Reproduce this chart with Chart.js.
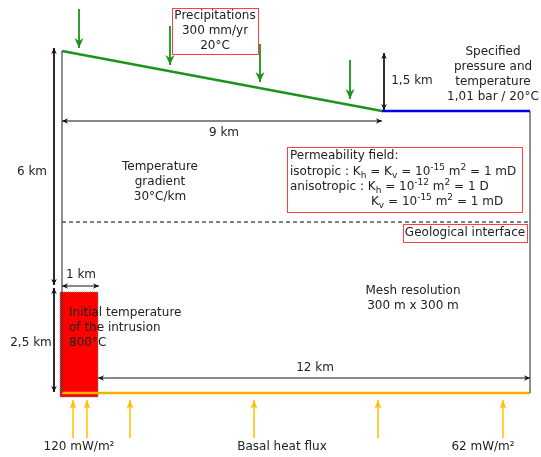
<!DOCTYPE html>
<html>
<head>
<meta charset="utf-8">
<script src="https://cdn.jsdelivr.net/npm/chart.js@4/dist/chart.umd.min.js"></script>
<style>
  body { margin: 0; background: #fff; }
</style>
</head>
<body>
<canvas id="myChart" width="541" height="457"></canvas>
<script>
// schematic coordinates (diagram units, y grows downward)
var surfaceX = [62, 382];
var surfaceY = [51, 111];
var outletX = [382, 530];
var outletY = [111, 111];
var leftWallX = [62, 62];
var leftWallY = [51, 393];
var rightWallX = [530, 530];
var rightWallY = [111, 393];
var baseX = [62, 530];
var baseY = [393, 393];
var interfaceX = [62, 530];
var interfaceY = [222, 222];
var intrusionX = [60, 98];
var intrusionY = [292, 397];

// boundary condition arrows
var rainX = [79, 170, 260, 350];
var rainFromY = [9, 26, 44, 60];
var rainToY = [48, 65, 82, 99];
var fluxX = [73, 87, 130, 254, 378, 503];
var fluxFromY = [438, 438, 438, 438, 438, 438];
var fluxToY = [400, 400, 400, 400, 400, 400];

// dimension arrows: [x1, y1, x2, y2]
var dimNames = ["6 km", "2,5 km", "9 km", "1,5 km", "1 km", "12 km"];
var dimLines = [
  [54, 48, 54, 285],
  [54, 288, 54, 392],
  [62, 121, 382, 121],
  [384, 53, 384, 110],
  [62, 286, 99, 286],
  [98, 378, 530, 378]
];

function pts(xs, ys) {
  return xs.map(function (x, i) { return { x: x, y: ys[i] }; });
}

var datasets = [];

function addLine(xs, ys, color, width, extra) {
  var ds = {
    data: pts(xs, ys),
    showLine: true,
    borderColor: color,
    borderWidth: width,
    pointRadius: 0,
    fill: false,
    order: 1
  };
  Object.assign(ds, extra || {});
  datasets.push(ds);
}

// intrusion block (drawn first, under everything)
addLine(intrusionX, [intrusionY[0], intrusionY[0]], "rgba(0,0,0,0)", 0, {
  fill: { value: intrusionY[1] },
  backgroundColor: "#ff0000",
  order: 9
});
addLine([intrusionX[0], intrusionX[1], intrusionX[1], intrusionX[0], intrusionX[0]],
  [intrusionY[0], intrusionY[0], intrusionY[1], intrusionY[1], intrusionY[0]],
  "#888", 1, { borderDash: [1, 1], order: 8 });

addLine(leftWallX, leftWallY, "#444", 1.2);
addLine(rightWallX, rightWallY, "#444", 1.2);
addLine(interfaceX, interfaceY, "#000", 1, { borderDash: [4, 3] });
addLine(surfaceX, surfaceY, "#1c941c", 2.5);
addLine(outletX, outletY, "#0000e6", 2.5);
addLine(baseX, baseY, "#f5b000", 2.5);

rainX.forEach(function (x, i) {
  addLine([x, x], [rainFromY[i], rainToY[i]], "#1c941c", 1.8,
    { arrow: ["end"], headLen: 10, headW: 4.5 });
});
fluxX.forEach(function (x, i) {
  addLine([x, x], [fluxFromY[i], fluxToY[i]], "#ffc000", 1.5,
    { arrow: ["end"], headLen: 9, headW: 3.5 });
});
dimLines.forEach(function (d) {
  addLine([d[0], d[2]], [d[1], d[3]], "#111", 1,
    { arrow: ["start", "end"], headLen: 6, headW: 2.8 });
});

// text annotations: x, y, align, lines
var labels = [
  { x: 215, y: 16, lines: ["Precipitations", "300 mm/yr", "20°C"] },
  { x: 493, y: 52, lines: ["Specified", "pressure and", "temperature", "1,01 bar / 20°C"] },
  { x: 412, y: 81, lines: ["1,5 km"] },
  { x: 224, y: 133, lines: ["9 km"] },
  { x: 32, y: 172, lines: ["6 km"] },
  { x: 160, y: 167, lines: ["Temperature", "gradient", "30°C/km"] },
  { x: 465, y: 233, lines: ["Geological interface"] },
  { x: 81, y: 275, lines: ["1 km"] },
  { x: 69, y: 313, lines: ["Initial temperature", "of the intrusion", "800°C"], align: "left" },
  { x: 31, y: 343, lines: ["2,5 km"] },
  { x: 413, y: 291, lines: ["Mesh resolution", "300 m x 300 m"] },
  { x: 315, y: 368, lines: ["12 km"] },
  { x: 79, y: 447, lines: ["120 mW/m²"] },
  { x: 282, y: 447, lines: ["Basal heat flux"] },
  { x: 483, y: 447, lines: ["62 mW/m²"] }
];

// framed boxes: [x1, y1, x2, y2]
var boxes = [
  [172, 8, 258, 54],
  [287, 147, 522, 212],
  [403, 224, 527, 242]
];

// permeability block with sub/superscripts
var permLines = [
  { x: 290, y: 156, parts: [["Permeability field:", "n"]] },
  { x: 290, y: 172, parts: [["isotropic : K", "n"], ["h", "sub"], [" = K", "n"], ["v", "sub"],
    [" = 10", "n"], ["-15", "sup"], [" m", "n"], ["2", "sup"], [" = 1 mD", "n"]] },
  { x: 290, y: 187, parts: [["anisotropic : K", "n"], ["h", "sub"], [" = 10", "n"], ["-12", "sup"],
    [" m", "n"], ["2", "sup"], [" = 1 D", "n"]] },
  { x: 371, y: 202, parts: [["K", "n"], ["v", "sub"], [" = 10", "n"], ["-15", "sup"],
    [" m", "n"], ["2", "sup"], [" = 1 mD", "n"]] }
];

var FONT = '12px "DejaVu Sans"';
var SMALL = '9px "DejaVu Sans"';
var LINE_H = 15;

var annotate = {
  id: "annotate",
  afterDatasetsDraw: function (chart) {
    var ctx = chart.ctx;
    var sx = chart.scales.x, sy = chart.scales.y;
    ctx.save();

    // arrow heads
    chart.data.datasets.forEach(function (ds, i) {
      if (!ds.arrow) return;
      var p = chart.getDatasetMeta(i).data;
      ds.arrow.forEach(function (end) {
        var tip = end === "end" ? p[p.length - 1] : p[0];
        var from = end === "end" ? p[p.length - 2] : p[1];
        var a = Math.atan2(tip.y - from.y, tip.x - from.x);
        ctx.fillStyle = ds.borderColor;
        ctx.beginPath();
        ctx.moveTo(tip.x, tip.y);
        ctx.lineTo(tip.x - ds.headLen * Math.cos(a) + ds.headW * Math.sin(a),
                   tip.y - ds.headLen * Math.sin(a) - ds.headW * Math.cos(a));
        ctx.lineTo(tip.x - ds.headLen * 0.7 * Math.cos(a), tip.y - ds.headLen * 0.7 * Math.sin(a));
        ctx.lineTo(tip.x - ds.headLen * Math.cos(a) - ds.headW * Math.sin(a),
                   tip.y - ds.headLen * Math.sin(a) + ds.headW * Math.cos(a));
        ctx.closePath();
        ctx.fill();
      });
    });

    // boxes
    ctx.strokeStyle = "#ff4040";
    ctx.lineWidth = 1;
    boxes.forEach(function (b) {
      var x1 = sx.getPixelForValue(b[0]), y1 = sy.getPixelForValue(b[1]);
      var x2 = sx.getPixelForValue(b[2]), y2 = sy.getPixelForValue(b[3]);
      ctx.fillStyle = "#fff";
      ctx.fillRect(x1, y1, x2 - x1, y2 - y1);
      ctx.strokeRect(Math.round(x1) + 0.5, Math.round(y1) + 0.5, Math.round(x2 - x1), Math.round(y2 - y1));
    });

    // plain labels
    ctx.fillStyle = "#222";
    ctx.font = FONT;
    ctx.textBaseline = "middle";
    labels.forEach(function (l) {
      ctx.textAlign = l.align || "center";
      var x = sx.getPixelForValue(l.x);
      l.lines.forEach(function (t, k) {
        ctx.fillText(t, x, sy.getPixelForValue(l.y + k * LINE_H));
      });
    });

    // rich permeability lines
    ctx.textAlign = "left";
    permLines.forEach(function (l) {
      var x = sx.getPixelForValue(l.x), y = sy.getPixelForValue(l.y);
      l.parts.forEach(function (part) {
        var dy = 0;
        if (part[1] === "n") { ctx.font = FONT; }
        else { ctx.font = SMALL; dy = part[1] === "sup" ? -4 : 4; }
        ctx.fillText(part[0], x, y + dy);
        x += ctx.measureText(part[0]).width;
      });
    });
    ctx.restore();
  }
};

new Chart("myChart", {
  type: "scatter",
  data: { datasets: datasets },
  options: {
    responsive: false,
    animation: false,
    devicePixelRatio: 1,
    layout: { padding: 0 },
    plugins: { legend: { display: false }, tooltip: { enabled: false } },
    scales: {
      x: { type: "linear", min: 0, max: 541, display: false },
      y: { type: "linear", min: 0, max: 457, reverse: true, display: false }
    }
  },
  plugins: [annotate]
});
</script>
</body>
</html>
